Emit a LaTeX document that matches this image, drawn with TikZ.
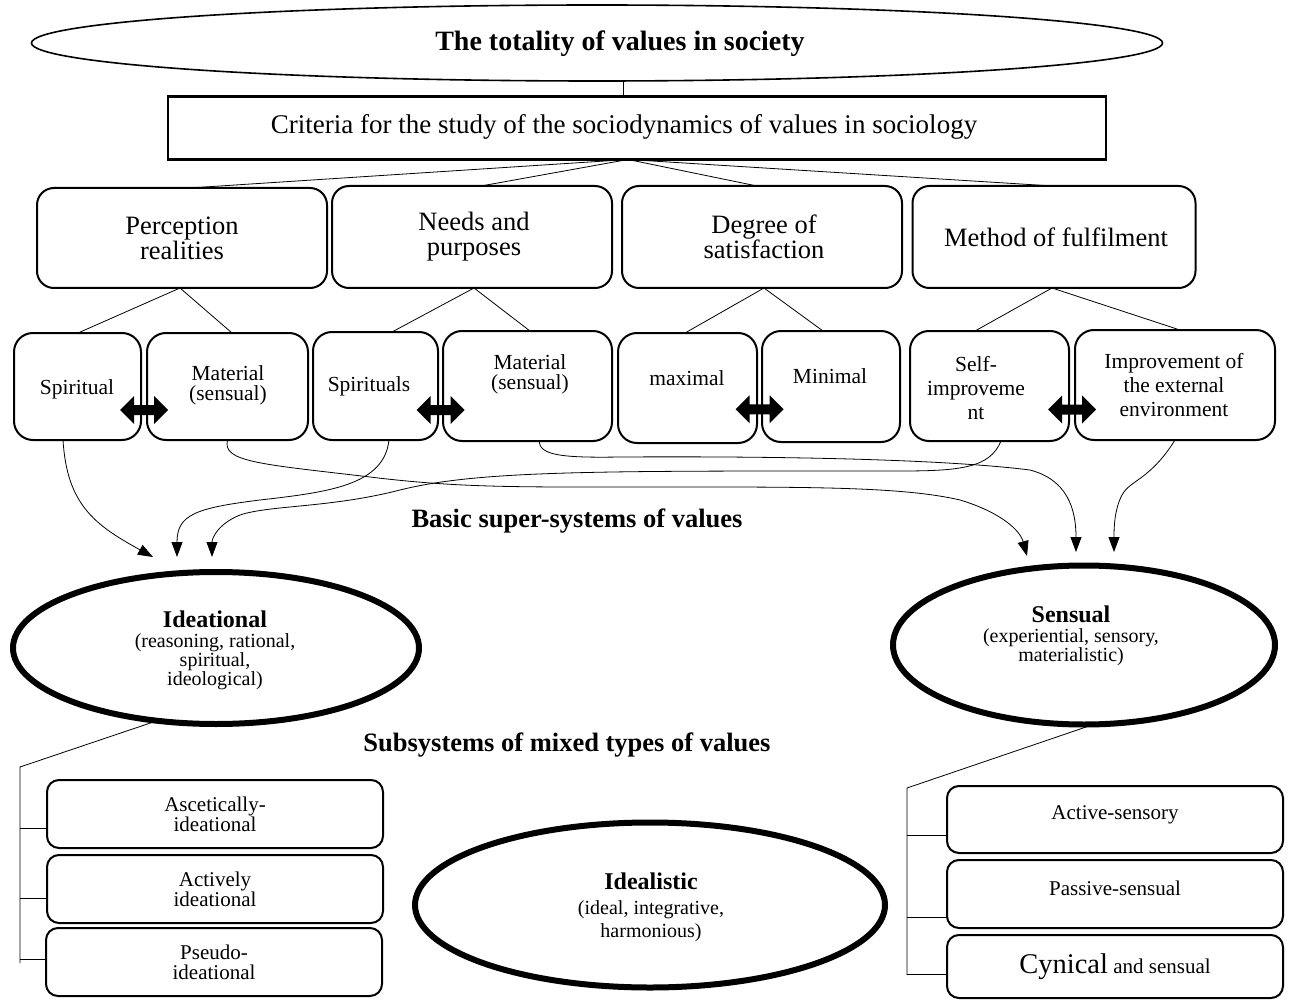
\documentclass[tikz,border=0pt]{standalone}
\usepackage{fontspec}
\setmainfont{Liberation Serif}
\usetikzlibrary{shapes.geometric,arrows.meta,calc}

% font sizes (1pt = 1 output pixel)
\newcommand\fTitle{\fontsize{28}{28}\selectfont\bfseries}
\newcommand\fCrit{\fontsize{27}{28}\selectfont}
\newcommand\fLevelA{\fontsize{26.5}{25}\selectfont}
\newcommand\fLevelB{\fontsize{21.5}{20}\selectfont}
\newcommand\fLevelBw{\fontsize{21.5}{24}\selectfont}
\newcommand\fHead{\fontsize{26.5}{28}\selectfont\bfseries}
\newcommand\fLeaf{\fontsize{21}{20}\selectfont}
\newcommand\fSub{\fontsize{20}{19}\selectfont}
\newcommand\fOvalHead{\fontsize{24}{22}\selectfont\bfseries}

\begin{document}
\begin{tikzpicture}[x=1pt,y=-1pt,
  every node/.style={inner sep=0pt,outer sep=0pt},
  ln/.style={line width=0.8pt},
  arr/.style={line width=0.8pt,-{Triangle[length=15pt,width=11pt]}},
  bigbox/.style={draw,line width=2pt,rounded corners=17pt},
  smallbox/.style={draw,line width=2pt,rounded corners=19pt},
  leafbox/.style={draw,line width=2pt,rounded corners=12pt},
  oval/.style={draw,ellipse,line width=6pt},
  dblarrow/.pic={\fill (-24,0) -- (-10,-14) -- (-10,-5) -- (10,-5) -- (10,-14)
     -- (24,0) -- (10,14) -- (10,5) -- (-10,5) -- (-10,14) -- cycle;}
]
\useasboundingbox[fill=white] (0,0) rectangle (1290,1000);

% ---------- top of the hierarchy ----------
\node[draw,ellipse,line width=1.6pt,minimum width=1131pt,minimum height=76pt] (top) at (597,43) {};
\node[font=\fTitle] (topt) at (620,44) {The totality of values in society};
\node[draw,line width=2.2pt,minimum width=938pt,minimum height=63pt] (crit) at (637,128) {};
\node[font=\fCrit] (critt) at (624,127) {Criteria for the study of the sociodynamics of values in sociology};
\draw[ln] ([xshift=-14pt]crit.north) -- ([xshift=-14pt]crit.north |- top.south);

% ---------- criteria ----------
\node[bigbox,minimum width=290pt,minimum height=100pt] (c1) at (182,238) {};
\node[bigbox,minimum width=280pt,minimum height=102pt] (c2) at (472,237) {};
\node[bigbox,minimum width=280pt,minimum height=102pt] (c3) at (762,237) {};
\node[bigbox,minimum width=283pt,minimum height=102pt] (c4) at (1054,237) {};
\node[font=\fLevelA,align=center] (c1t) at (182,238) {Perception\\realities};
\node[font=\fLevelA,align=center] (c2t) at (474,237) {Needs and\\purposes};
\node[font=\fLevelA,align=center] (c3t) at (764,237) {Degree of\\satisfaction};
\node[font=\fLevelA,align=center] (c4t) at (1056,237) {Method of fulfilment};

\draw[ln] ([xshift=-9pt]crit.south) -- ([xshift=7pt]c1.north);
\draw[ln] ([xshift=-9pt]crit.south) -- ([xshift=9pt]c2.north);
\draw[ln] ([xshift=-9pt]crit.south) -- ([xshift=-5pt]c3.north);
\draw[ln] ([xshift=-9pt]crit.south) -- ([xshift=-1pt]c4.north);

% ---------- sub-criteria ----------
\node[smallbox,minimum width=127pt,minimum height=107pt] (s1) at (77.5,386.5) {};
\node[smallbox,minimum width=161pt,minimum height=107pt] (m1) at (227.5,386.5) {};
\node[smallbox,minimum width=125pt,minimum height=108pt] (s2) at (375.5,386) {};
\node[smallbox,minimum width=169pt,minimum height=110pt] (m2) at (527.5,386) {};
\node[smallbox,minimum width=139pt,minimum height=110pt] (mx) at (687.5,388) {};
\node[smallbox,minimum width=138pt,minimum height=111pt] (mn) at (831,386.5) {};
\node[smallbox,minimum width=159pt,minimum height=110pt] (si) at (989.5,386) {};
\node[smallbox,minimum width=200pt,minimum height=110pt] (ie) at (1175,385) {};

\node[font=\fLevelB] (s1t) at (77,389) {Spiritual};
\node[font=\fLevelB,align=center] (m1t) at (228,385) {Material\\(sensual)};
\node[font=\fLevelB] (s2t) at (369,386) {Spirituals};
\node[font=\fLevelB,align=center] (m2t) at (530,374) {Material\\(sensual)};
\node[font=\fLevelB] (mxt) at (687,378) {maximal};
\node[font=\fLevelB] (mnt) at (830,376) {Minimal};
\node[font=\fLevelBw,align=center] (sit) at (976,388) {Self-\\improveme\\nt};
\node[font=\fLevelBw,align=center] (iet) at (1174,385) {Improvement of\\the external\\environment};

\draw[ln] ([xshift=-2pt]c1.south) -- ([xshift=0.5pt]s1.north);
\draw[ln] ([xshift=-2pt]c1.south) -- ([xshift=4.5pt]m1.north);
\draw[ln] ([xshift=2pt]c2.south) -- ([xshift=16.5pt]s2.north);
\draw[ln] ([xshift=2pt]c2.south) -- ([xshift=2.5pt]m2.north);
\draw[ln] ([xshift=2pt]c3.south) -- ([xshift=-2.5pt]mx.north);
\draw[ln] ([xshift=2pt]c3.south) -- ([xshift=-8pt]mn.north);
\draw[ln] ([xshift=-2pt]c4.south) -- ([xshift=-14.5pt]si.north);
\draw[ln] ([xshift=-2pt]c4.south) -- ([xshift=5pt]ie.north);

% opposing pairs
\pic at ($(s1.east)!.5!(m1.west)+(0,23.5)$) {dblarrow};
\pic at ($(s2.east)!.5!(m2.west)+(0,24)$) {dblarrow};
\pic at ($(mx.east)!.5!(mn.west)+(0,22)$) {dblarrow};
\pic at ($(si.east)!.5!(ie.west)+(0,24)$) {dblarrow};

% ---------- super-systems ----------
\node[font=\fHead] (basic) at (577,521) {Basic super-systems of values};

\coordinate (ia1) at (153,557);
\coordinate (ia2) at (177,557);
\coordinate (ia3) at (212,557);
\coordinate (sa1) at (1027,556);
\coordinate (sa2) at (1076,552);
\coordinate (sa3) at (1114,552);

\draw[arr] ([xshift=-14.5pt]s1.south) .. controls (67,505) and (95,525) .. (ia1);
\draw[arr] ([xshift=13.5pt]s2.south) .. controls (384,485) and (330,492) .. (260,500)
   .. controls (195,508) and (177,515) .. (ia2);
\draw[arr] ([xshift=11.5pt]si.south) .. controls (990,468) and (960,471) .. (900,471)
   .. controls (600,471) and (480,470) .. (400,490)
   .. controls (330,508) and (270,505) .. (240,515)
   .. controls (218,524) and (212,538) .. (ia3);
\draw[arr] (m1.south) .. controls (222,462) and (260,464) .. (370,477)
   .. controls (460,488) and (520,487) .. (640,487)
   .. controls (800,487) and (900,486) .. (960,500)
   .. controls (1000,512) and (1020,530) .. (sa1);
\draw[arr] ([xshift=11.5pt]m2.south) .. controls (540,455) and (560,458) .. (620,457)
   .. controls (800,456) and (950,460) .. (1030,470)
   .. controls (1068,480) and (1076,510) .. (sa2);
\draw[arr] (ie.south) .. controls (1150,480) and (1130,480) .. (1122,495)
   .. controls (1114,510) and (1114,530) .. (sa3);

\node[oval,minimum width=406pt,minimum height=152pt] (idn) at (216,648) {};
\node[font=\fSub,align=center] (idnt) at (215,650)
  {{\fOvalHead Ideational}\\[1pt](reasoning, rational,\\spiritual,\\ideological)};
\node[oval,minimum width=382pt,minimum height=159pt] (sen) at (1084,645) {};
\node[font=\fSub,align=center] (sent) at (1071,636)
  {{\fOvalHead Sensual}\\[1pt](experiential, sensory,\\materialistic)};

% ---------- mixed subsystems ----------
\node[font=\fHead] (mixed) at (567,745) {Subsystems of mixed types of values};

\node[oval,minimum width=470pt,minimum height=165pt] (ida) at (650,905) {};
\node[font=\fontsize{20}{23}\selectfont,align=center] (idat) at (651,907)
  {{\fOvalHead Idealistic}\\[2pt](ideal, integrative,\\harmonious)};

\node[leafbox,minimum width=336pt,minimum height=68pt,font=\fLeaf,align=center] (a1) at (215,814) {Ascetically-\\ideational};
\node[leafbox,minimum width=336pt,minimum height=68pt,font=\fLeaf,align=center] (a2) at (215,889) {Actively\\ideational};
\node[leafbox,minimum width=336pt,minimum height=68pt,font=\fLeaf,align=center] (a3) at (214,962) {Pseudo-\\ideational};

\node[leafbox,minimum width=336pt,minimum height=67pt] (b1) at (1115,819.5) {};
\node[leafbox,minimum width=336pt,minimum height=68pt] (b2) at (1115,894) {};
\node[leafbox,minimum width=336pt,minimum height=63pt] (b3) at (1115,966.5) {};
\node[font=\fLeaf] (b1t) at (1115,815) {Active-sensory};
\node[font=\fLeaf] (b2t) at (1115,888) {Passive-sensual};
\node[font=\fLeaf] (b3t) at (1115,967) {{\fontsize{28.5}{28}\selectfont Cynical} and sensual};

% brackets joining the subsystems to their super-system
\coordinate (lt) at (20,767);
\coordinate (lb) at (20,963);
\coordinate (lk1) at (20,828);
\coordinate (lk2) at (20,898);
\coordinate (lk3) at (20,959);
\draw[ln] (idn.231) -- (lt) -- (lb);
\draw[ln] (lk1) -- (lk1 -| a1.west);
\draw[ln] (lk2) -- (lk2 -| a2.west);
\draw[ln] (lk3) -- (lk3 -| a3.west);

\coordinate (rt) at (907,788);
\coordinate (rb) at (907,975);
\coordinate (rk1) at (907,835);
\coordinate (rk2) at (907,917);
\coordinate (rk3) at (907,974);
\draw[ln] (sen.277) -- (rt) -- (rb);
\draw[ln] (rk1) -- (rk1 -| b1.west);
\draw[ln] (rk2) -- (rk2 -| b2.west);
\draw[ln] (rk3) -- (rk3 -| b3.west);
\end{tikzpicture}
\end{document}
